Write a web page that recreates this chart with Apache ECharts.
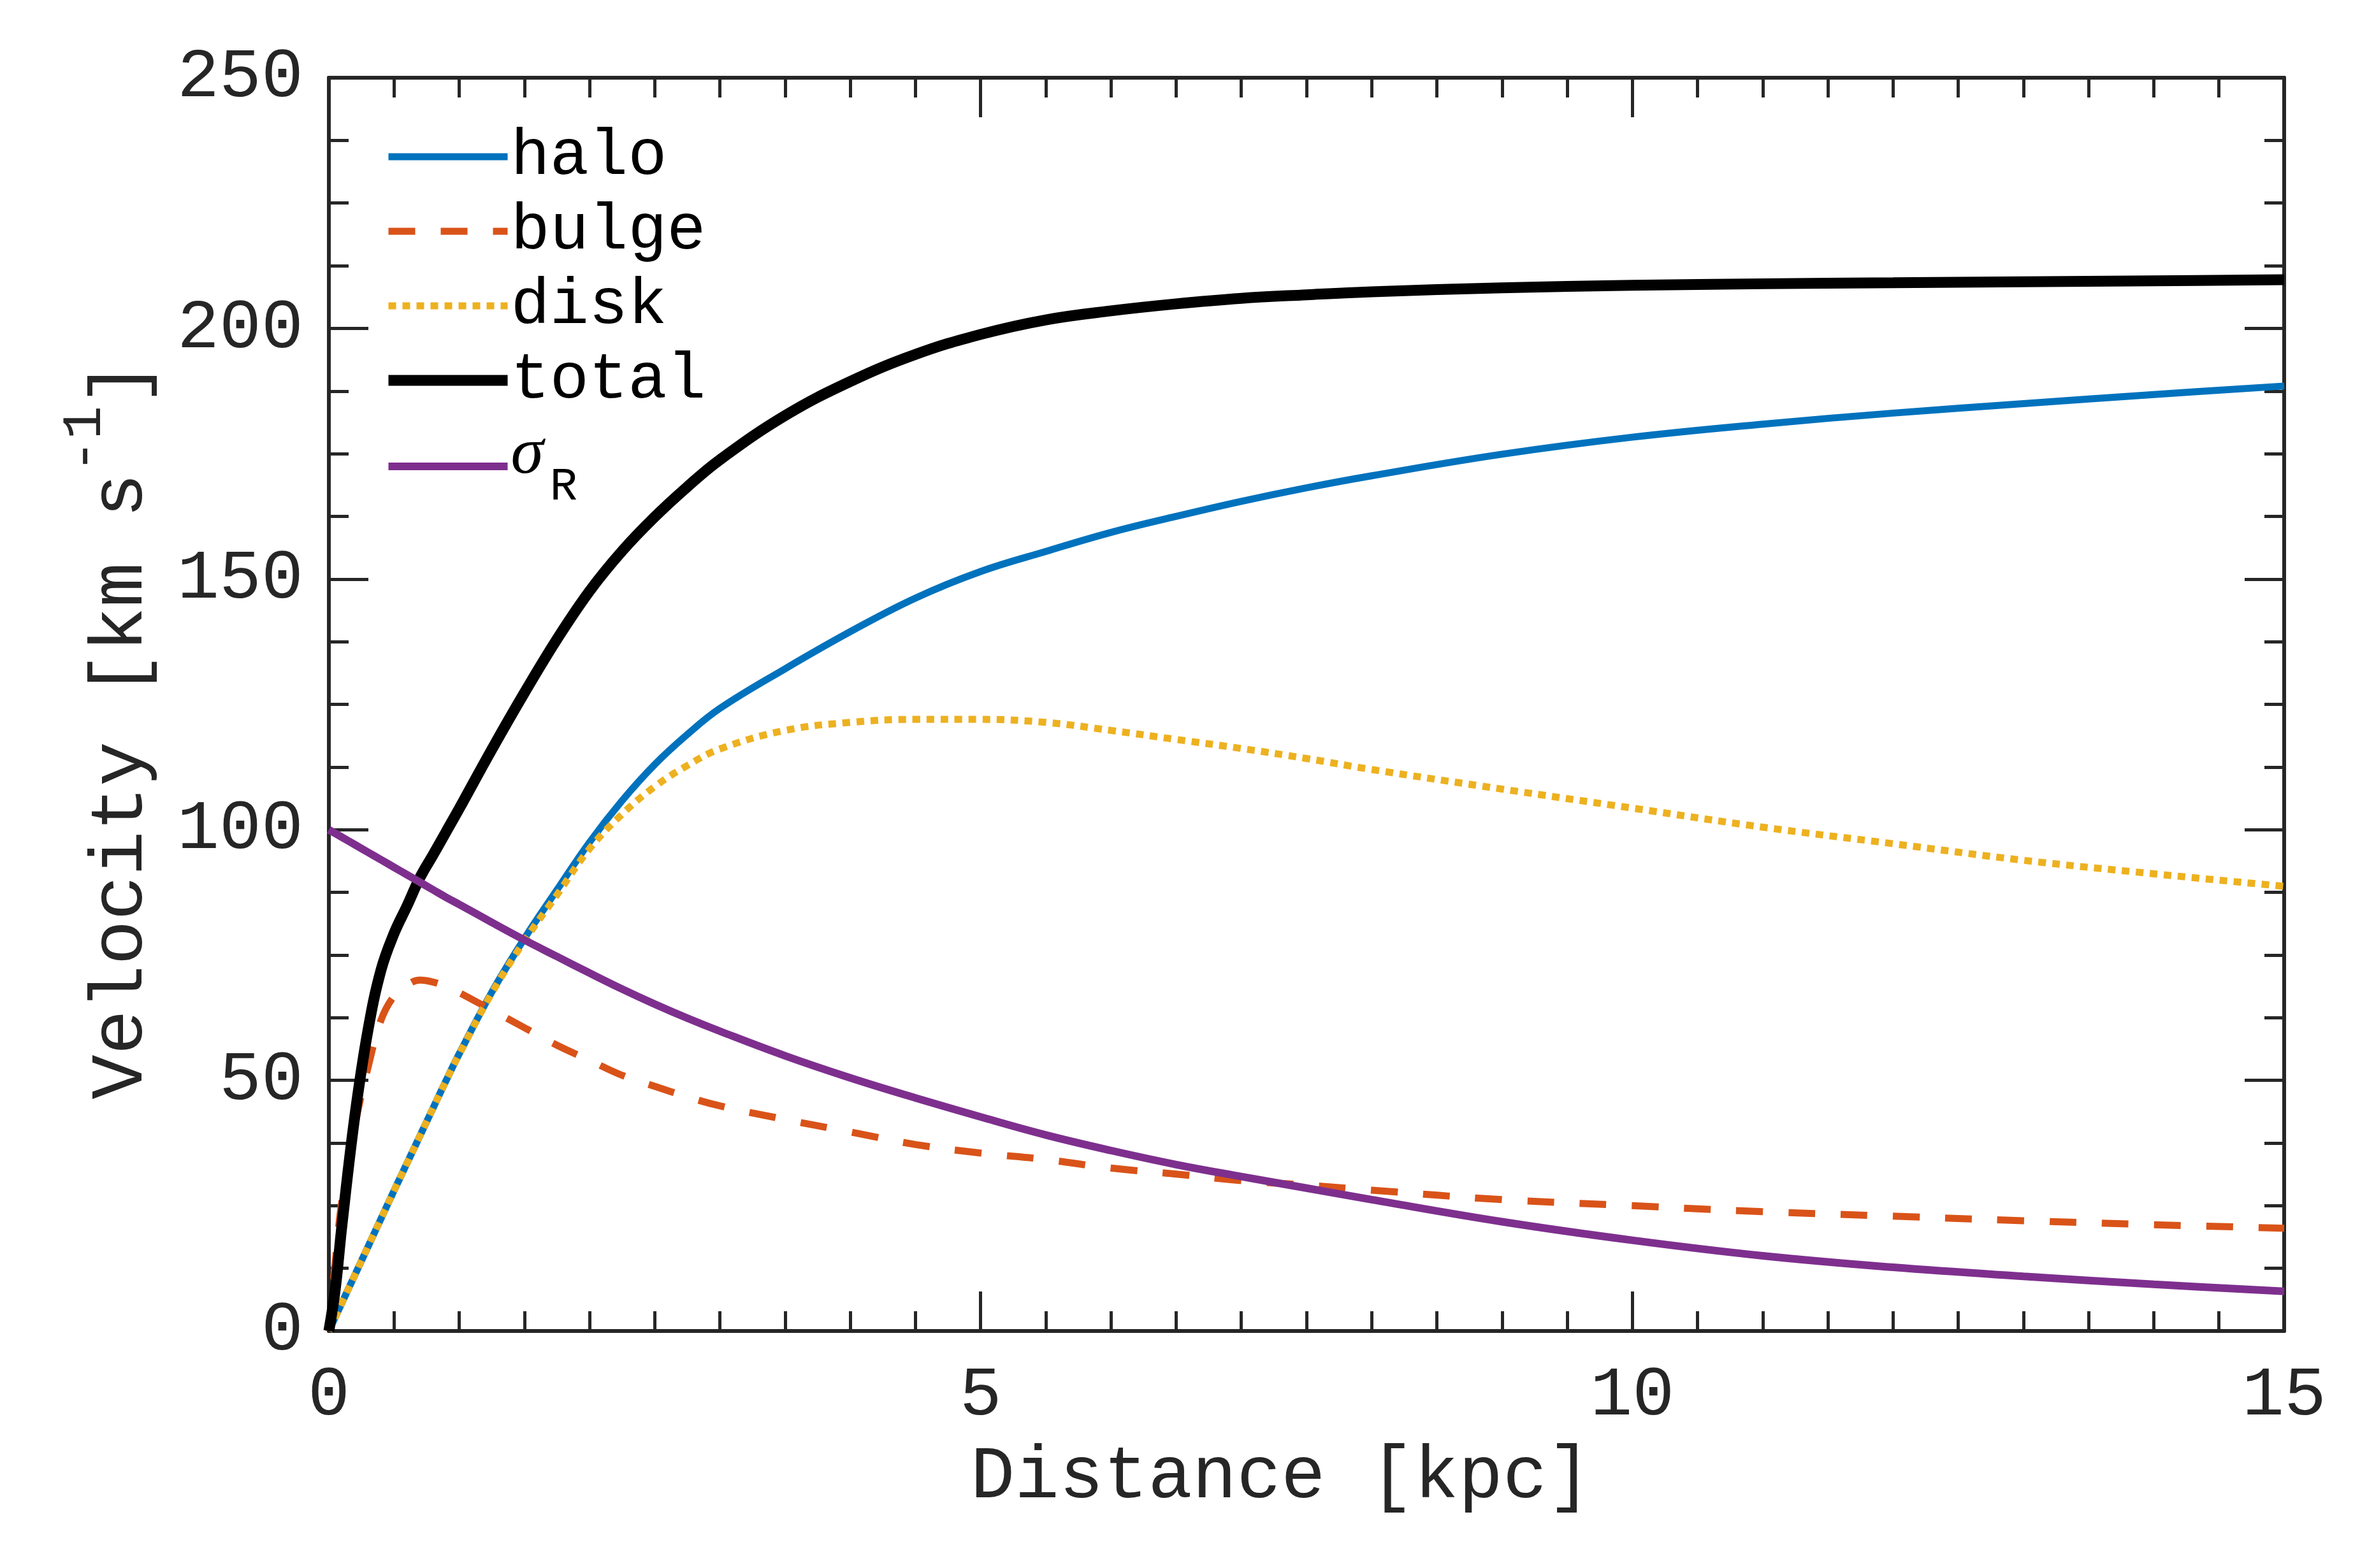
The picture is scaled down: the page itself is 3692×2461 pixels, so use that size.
<!DOCTYPE html>
<html>
<head>
<meta charset="utf-8">
<script src="https://cdn.jsdelivr.net/npm/echarts/dist/echarts.min.js"></script>
<style>
  html, body { margin: 0; padding: 0; background: #fff; }
  #chart { width: 3692px; height: 2461px; }
</style>
</head>
<body>
<div id="chart"></div>
<script>
  // distance grid [kpc] and the curves [km/s]
  const distance = [0, 0.05, 0.1, 0.2, 0.3, 0.4, 0.5, 0.6, 0.7, 0.8, 0.9, 1.0, 1.25, 1.5, 1.75, 2.0, 2.25, 2.5, 2.75, 3.0, 3.5, 4.0, 4.5, 5.0, 5.5, 6.0, 6.5, 7.0, 7.5, 8.0, 9.0, 10.0, 11.0, 12.0, 13.0, 14.0, 15.0]
  const halo   = [0, 2.8, 5.6, 11.2, 16.8, 22.4, 28, 33.5, 39, 44.5, 50, 55.3, 67.6, 78.3, 88, 97.5, 105.8, 113, 119, 124.2, 132.1, 139.5, 146.2, 151.5, 155.5, 159.3, 162.5, 165.5, 168.2, 170.6, 174.9, 178.3, 180.9, 183.1, 185, 186.8, 188.5]
  const bulge  = [0, 14, 26, 41, 52.5, 62, 66.8, 69, 70, 69.6, 68.7, 67.5, 64, 60.5, 57, 54, 51, 48.8, 46.7, 44.9, 42.2, 39.7, 37.2, 35.5, 34.2, 32.5, 31.3, 30, 29.1, 28.1, 26.2, 25, 23.8, 22.9, 22, 21.2, 20.5]
  const disk   = [0, 2.8, 5.6, 11.2, 16.8, 22.4, 28, 33.5, 39, 44.5, 50, 55.2, 67.4, 77.8, 87, 96.2, 103.1, 108.6, 112.8, 116.1, 119.8, 121.4, 122, 122, 121.4, 119.8, 118, 116.2, 114.2, 112, 108.1, 104.3, 100.5, 97.2, 93.9, 91.2, 88.7]
  const total  = [0, 8.5, 21, 43, 60, 72, 79.3, 84.8, 90.5, 95, 99.6, 104.2, 116, 127.3, 138, 147.6, 155.6, 162.4, 168.4, 173.8, 182.6, 189.4, 194.8, 198.8, 201.7, 203.5, 204.9, 206, 206.7, 207.3, 208.1, 208.6, 208.9, 209.1, 209.3, 209.5, 209.7]
  const sigmaR = [100, 99.25, 98.5, 97, 95.5, 94, 92.5, 91, 89.5, 88, 86.5, 85.1, 81.5, 78, 74.7, 71.4, 68.2, 65.2, 62.4, 59.8, 54.9, 50.5, 46.5, 42.7, 39.1, 36, 33.2, 30.8, 28.5, 26.2, 21.8, 18.1, 15, 12.7, 10.9, 9.3, 7.9]

  const axisColor = '#262626'
  const monoFont = 'Liberation Mono'

  function pairs(values){
    return distance.map((d, i) => [d, values[i]])
  }

  function lineSeries(name, values, color, width, type){
    return {
      name: name,
      type: 'line',
      data: pairs(values),
      showSymbol: false,
      symbol: 'none',
      smooth: 0.4,
      lineStyle: { color: color, width: width, type: type, cap: 'butt' },
      itemStyle: { color: color },
      emphasis: { disabled: true }
    }
  }

  // common look of the four box edges
  function boxAxis(extra){
    return Object.assign({
      axisLine: { show: true, onZero: false, lineStyle: { color: axisColor, width: 6 } },
      axisTick: { show: true, inside: true, length: 62, lineStyle: { color: axisColor, width: 5 } },
      splitLine: { show: false },
      minorSplitLine: { show: false }
    }, extra)
  }

  const xLabel = { show: true, margin: 47, color: axisColor, fontFamily: monoFont, fontSize: 110, lineHeight: 110 }
  const yLabel = { show: true, margin: 40, color: axisColor, fontFamily: monoFont, fontSize: 110, lineHeight: 110 }

  const chart = echarts.init(document.getElementById('chart'), null, { renderer: 'canvas' })

  const option = {
    backgroundColor: '#ffffff',
    animation: false,
    grid: { left: 516, right: 108, top: 122, bottom: 372, containLabel: false },
    legend: {
      orient: 'vertical',
      left: 601,
      top: 195,
      padding: 0,
      itemGap: 15,
      itemWidth: 187,
      itemHeight: 2,
      selectedMode: false,
      itemStyle: { opacity: 0 },
      lineStyle: { width: 'inherit', type: 'inherit' },
      textStyle: {
        fontFamily: monoFont,
        fontSize: 102,
        lineHeight: 102,
        color: '#000000',
        rich: {
          s: { fontFamily: 'Liberation Serif', fontStyle: 'italic', fontSize: 104, lineHeight: 102, verticalAlign: 'top', color: '#000000' },
          sub: { fontFamily: monoFont, fontSize: 72, lineHeight: 66, verticalAlign: 'bottom', color: '#000000', padding: [0, 0, 0, 10] },
          p: { fontSize: 4, lineHeight: 138 }
        }
      },
      formatter: function(name){
        return name === 'sigmaR' ? '{s|σ}{sub|R}{p| }' : name
      },
      data: ['halo', 'bulge', 'disk', 'total', 'sigmaR']
    },
    xAxis: [
      boxAxis({
        type: 'value', position: 'bottom', min: 0, max: 15, interval: 5,
        minorTick: { show: true, splitNumber: 10, length: 31, lineStyle: { color: axisColor, width: 5 } },
        axisLabel: xLabel,
        name: 'Distance [kpc]',
        nameLocation: 'middle',
        nameGap: 172,
        nameTextStyle: { fontFamily: monoFont, fontSize: 116, lineHeight: 116, color: axisColor, padding: [0, 80, 0, 0] }
      }),
      boxAxis({
        type: 'value', position: 'top', min: 0, max: 15, interval: 5,
        minorTick: { show: true, splitNumber: 10, length: 31, lineStyle: { color: axisColor, width: 5 } },
        axisLabel: { show: false }
      })
    ],
    yAxis: [
      boxAxis({
        type: 'value', position: 'left', min: 0, max: 250, interval: 50,
        minorTick: { show: true, splitNumber: 4, length: 31, lineStyle: { color: axisColor, width: 5 } },
        axisLabel: yLabel,
        name: '{a|Velocity [km s}{sup|-1}{a|]}{p| }',
        nameLocation: 'middle',
        nameGap: 266,
        nameTextStyle: {
          color: axisColor,
          padding: [0, 80, 0, 0],
          rich: {
            a: { fontFamily: monoFont, fontSize: 117, lineHeight: 117, verticalAlign: 'bottom', color: axisColor },
            sup: { fontFamily: monoFont, fontSize: 88, lineHeight: 88, verticalAlign: 'top', color: axisColor },
            p: { fontSize: 4, lineHeight: 160 }
          }
        }
      }),
      boxAxis({
        type: 'value', position: 'right', min: 0, max: 250, interval: 50,
        minorTick: { show: true, splitNumber: 4, length: 31, lineStyle: { color: axisColor, width: 5 } },
        axisLabel: { show: false }
      })
    ],
    series: [
      lineSeries('halo', halo, '#0072BD', 11, 'solid'),
      lineSeries('bulge', bulge, '#D95319', 11, [42, 40]),
      lineSeries('disk', disk, '#EDB120', 11, [12, 10]),
      lineSeries('total', total, '#000000', 17, 'solid'),
      lineSeries('sigmaR', sigmaR, '#7E2F8E', 12, 'solid')
    ]
  }

  chart.setOption(option)
</script>
</body>
</html>
